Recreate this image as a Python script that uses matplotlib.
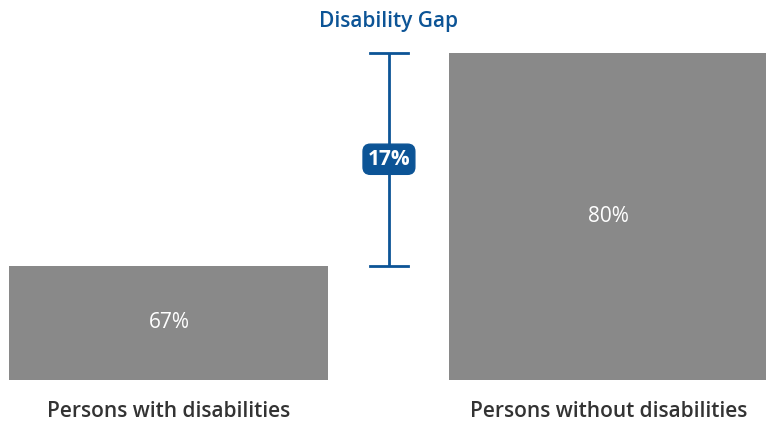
import matplotlib.pyplot as plt

groups = ["Persons with disabilities", "Persons without disabilities"]
rates = [67, 80]
gap_label = "17%"
baseline = 60

bar_color = "#898989"
blue = "#0c5496"

plt.rcParams['font.family'] = ['Open Sans', 'DejaVu Sans']

fig = plt.figure(figsize=(7.66, 4.21), dpi=100)
ax = fig.add_axes([0, 0, 1, 1])

x = [0, 1]
heights = [v - baseline for v in rates]
ax.bar(x, heights, width=0.725, bottom=baseline, color=bar_color)

# value labels in the middle of each bar
for xi, v in zip(x, rates):
    ax.text(xi, (v + baseline) / 2, "{}%".format(v), color="white",
            fontsize=15, ha="center", va="center")

# category labels under the bars
for xi, name in zip(x, groups):
    ax.text(xi, 58.1, name, color="#333333", fontsize=15,
            fontweight="semibold", ha="center", va="center")

# gap bracket between the two bar tops
bx = 0.5
cap = 0.043
lo, hi = min(rates), max(rates)
ax.plot([bx, bx], [lo, hi], color=blue, lw=2, solid_capstyle="butt")
ax.plot([bx - cap, bx + cap], [lo, lo], color=blue, lw=2)
ax.plot([bx - cap, bx + cap], [hi, hi], color=blue, lw=2)

ax.text(bx, (lo + hi) / 2, gap_label, color="white", fontsize=15,
        fontweight="bold", ha="center", va="center",
        bbox=dict(boxstyle="round,pad=0.22,rounding_size=0.35",
                  fc=blue, ec=blue))

ax.text(bx, 81.95, "Disability Gap", color=blue, fontsize=15,
        fontweight="semibold", ha="center", va="center")

ax.set_xlim(-0.384, 1.357)
ax.set_ylim(57.49, 83.24)
ax.axis("off")

plt.savefig("out.png", dpi=100)
